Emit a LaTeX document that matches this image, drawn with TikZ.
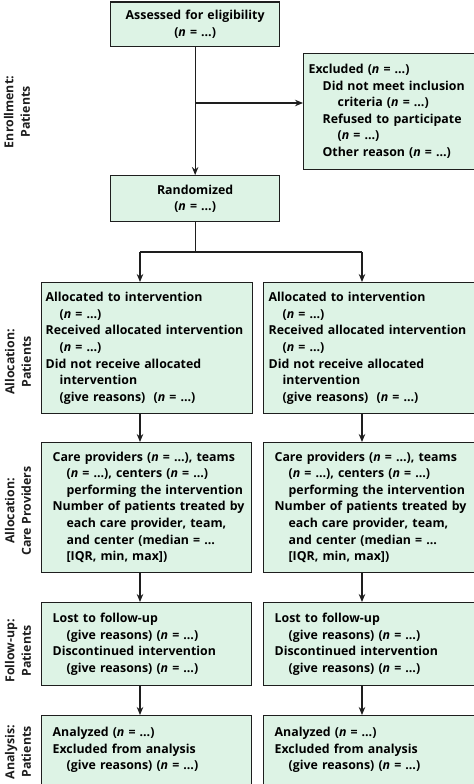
\documentclass[tikz,border=0pt]{standalone}
\usepackage{fontspec}
\setmainfont{Open Sans}
\usetikzlibrary{arrows.meta}
\definecolor{boxfill}{RGB}{221,243,229}
\definecolor{edgecol}{RGB}{30,30,30}
\newcommand{\nn}{(\textit{n} = …)}
\newcommand{\ind}{\hspace*{14bp}}
\newcommand{\indd}{\hspace*{29bp}}
\newcommand{\lns}[1]{\begin{tabular}{@{}l@{}}#1\end{tabular}}
\begin{document}
\begin{tikzpicture}[x=1bp,y=-1bp,
  font=\bfseries\fontsize{12.4}{16.7}\selectfont,
  box/.style={draw=edgecol, line width=1.3bp, fill=boxfill, rectangle,
    inner ysep=0pt, anchor=north west},
  arr/.style={draw=edgecol, line width=1.2bp, -{Stealth[length=8bp,width=6.5bp]}},
  ln/.style={draw=edgecol, line width=1.2bp},
  lab/.style={rotate=90, align=center, inner sep=0pt, text=edgecol}]
\useasboundingbox (0,0) rectangle (474,784);

% enrollment
\node[box, text width=165bp, inner xsep=2bp, minimum height=44.5bp, align=center]
  (assess) at (110,1.5) {Assessed for eligibility\\\nn};
\node[box, text width=165bp, inner xsep=5bp, minimum height=116bp, align=left]
  (excl) at (303,53) {\lns{Excluded \nn\\
  \ind Did not meet inclusion\\
  \indd criteria \nn\\
  \ind Refused to participate\\
  \indd \nn\\
  \ind Other reason \nn}};
\node[box, text width=165bp, inner xsep=2bp, minimum height=46bp, align=center]
  (rand) at (110,175) {Randomized\\\nn};

% allocation patients
\node[box, text width=203bp, inner xsep=4bp, minimum height=131bp, align=left]
  (allocL) at (41,282) {\lns{Allocated to intervention\\
  \ind\nn\\
  Received allocated intervention\\
  \ind\nn\\
  Did not receive allocated\\
  \ind intervention\\
  \ind (give reasons)\ \ \nn}};
\node[box, text width=203bp, inner xsep=5bp, minimum height=131bp, align=left]
  (allocR) at (263,282) {\lns{Allocated to intervention\\
  \ind\nn\\
  Received allocated intervention\\
  \ind\nn\\
  Did not receive allocated\\
  \ind intervention\\
  \ind (give reasons)\ \ \nn}};

% allocation care providers
\node[box, text width=188bp, inner xsep=11bp, minimum height=130bp, align=left]
  (careL) at (41,442) {\lns{Care providers \nn, teams\\
  \ind\nn, centers \nn\\
  \ind performing the intervention\\
  Number of patients treated by\\
  \ind each care provider, team,\\
  \ind and center (median = …\\
  \ind [IQR, min, max])}};
\node[box, text width=191bp, inner xsep=11bp, minimum height=130bp, align=left]
  (careR) at (263,442) {\lns{Care providers \nn, teams\\
  \ind\nn, centers \nn\\
  \ind performing the intervention\\
  Number of patients treated by\\
  \ind each care provider, team,\\
  \ind and center (median = …\\
  \ind [IQR, min, max])}};

% follow-up
\node[box, text width=188bp, inner xsep=11bp, minimum height=83bp, align=left]
  (followL) at (41,602) {\lns{Lost to follow-up\\
  \ind (give reasons) \nn\\
  Discontinued intervention\\
  \ind (give reasons) \nn}};
\node[box, text width=191bp, inner xsep=11bp, minimum height=83bp, align=left]
  (followR) at (263,602) {\lns{Lost to follow-up\\
  \ind (give reasons) \nn\\
  Discontinued intervention\\
  \ind (give reasons) \nn}};

% analysis
\node[box, text width=188bp, inner xsep=11bp, minimum height=68.5bp, align=left]
  (analL) at (41,715) {\lns{Analyzed \nn\\
  Excluded from analysis\\
  \ind (give reasons) \nn}};
\node[box, text width=191bp, inner xsep=11bp, minimum height=68.5bp, align=left]
  (analR) at (263,715) {\lns{Analyzed \nn\\
  Excluded from analysis\\
  \ind (give reasons) \nn}};

% side labels
\node[lab] (l1) at (17,112) {Enrollment:\\Patients};
\node[lab] (l2) at (18,362) {Allocation:\\Patients};
\node[lab] (l3) at (18,511) {Allocation:\\Care Providers};
\node[lab] (l4) at (18,651) {Follow-up:\\Patients};
\node[lab] (l5) at (18,752) {Analysis:\\Patients};

% connectors
\draw[arr] (assess.south) -- (rand.north);
\coordinate (br) at (assess.south |- 0,103);
\draw[arr] (br) -- (br -| excl.west);

\coordinate (split) at (rand.south |- 0,252);
\coordinate (sl) at (140,252);
\coordinate (sr) at (362,252);
\draw[ln] (rand.south) -- (split);
\draw[ln] (sl) -- (sr);
\draw[arr] (sl) -- (sl |- allocL.north);
\draw[arr] (sr) -- (sr |- allocR.north);

\draw[arr] (allocL.south -| sl) -- (careL.north -| sl);
\draw[arr] (allocR.south -| sr) -- (careR.north -| sr);
\draw[arr] (careL.south -| sl) -- (followL.north -| sl);
\draw[arr] (careR.south -| sr) -- (followR.north -| sr);
\draw[arr] (followL.south -| sl) -- (analL.north -| sl);
\draw[arr] (followR.south -| sr) -- (analR.north -| sr);
\end{tikzpicture}
\end{document}
